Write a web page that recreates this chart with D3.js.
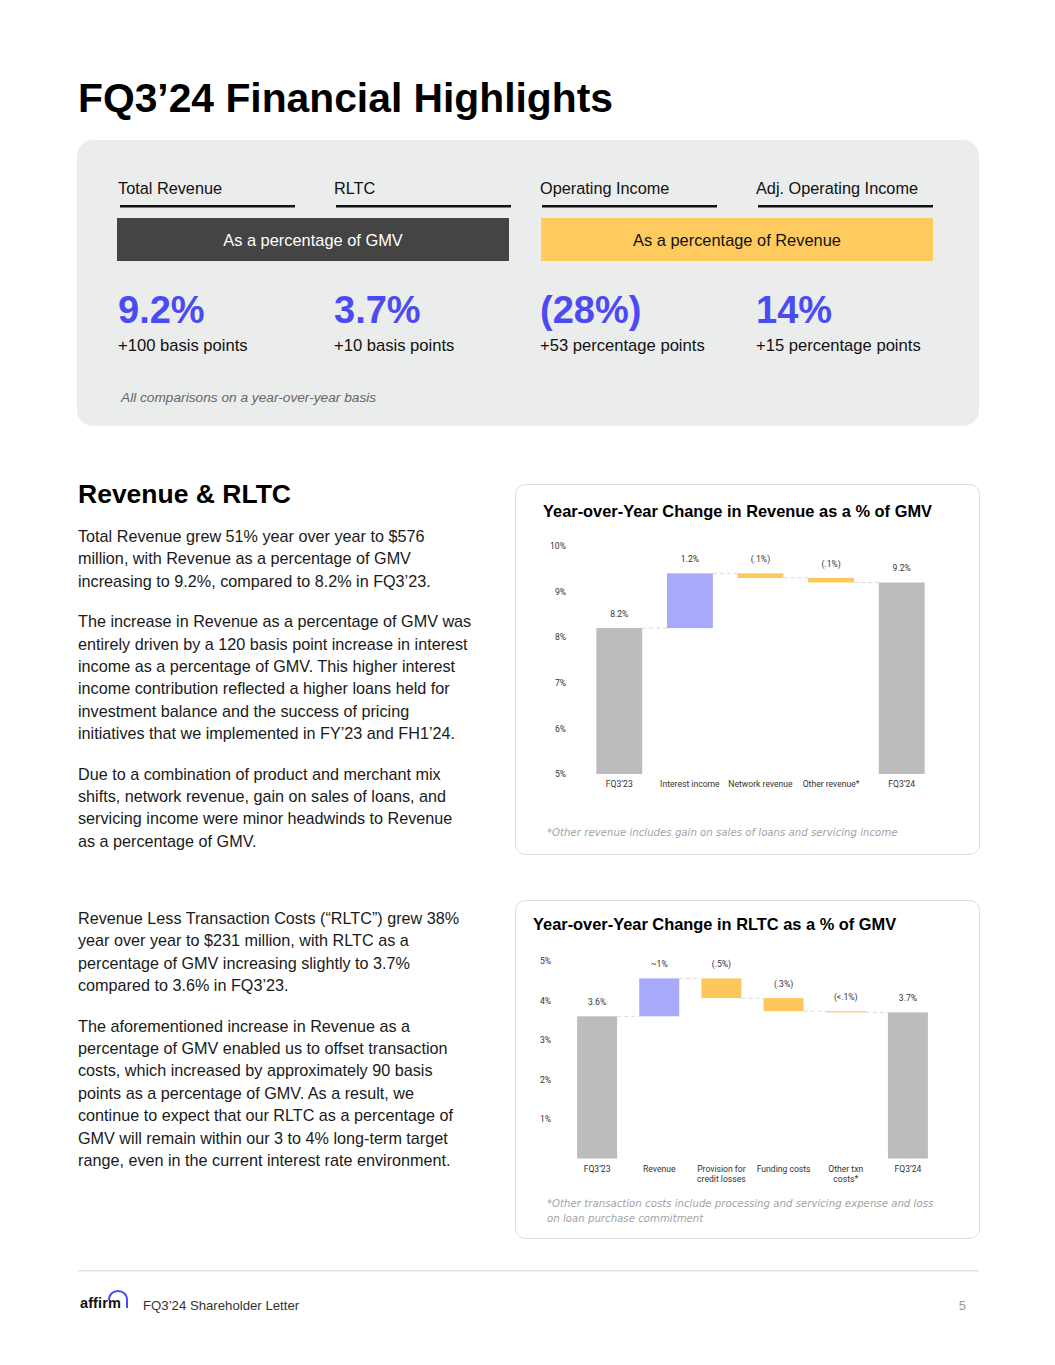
<!DOCTYPE html>
<html>
<head>
<meta charset="utf-8">
<script src="https://cdn.jsdelivr.net/npm/d3@7"></script>
<style>
  body { margin: 0; background: #fff; }
  svg { display: block; font-family: "Liberation Sans", Arial, sans-serif; }
</style>
</head>
<body>
<div id="page"></div>
<script>
var W = 1055, H = 1365;

// highlight tiles
var kpiNames = ["Total Revenue", "RLTC", "Operating Income", "Adj. Operating Income"];
var kpiValues = ["9.2%", "3.7%", "(28%)", "14%"];
var kpiChanges = ["+100 basis points", "+10 basis points", "+53 percentage points", "+15 percentage points"];
var kpiGroups = ["As a percentage of GMV", "As a percentage of Revenue"];

// revenue waterfall
var revCats = ["FQ3\u201923", "Interest income", "Network revenue", "Other revenue*", "FQ3\u201924"];
var revValues = [8.2, 1.2, -0.1, -0.1, 9.2];
var revLabels = ["8.2%", "1.2%", "(.1%)", "(.1%)", "9.2%"];
var revTicks = [5, 6, 7, 8, 9, 10];

// rltc waterfall
var rltcCats = ["FQ3\u201923", "Revenue", "Provision for|credit losses", "Funding costs", "Other txn|costs*", "FQ3\u201924"];
var rltcValues = [3.6, 0.96, -0.5, -0.33, -0.03, 3.7];
var rltcLabels = ["3.6%", "~1%", "(.5%)", "(.3%)", "(<.1%)", "3.7%"];
var rltcTicks = [1, 2, 3, 4, 5];

var para1 = [
  ["Total Revenue grew 51% year over year to $576",
   "million, with Revenue as a percentage of GMV",
   "increasing to 9.2%, compared to 8.2% in FQ3\u201923."],
  ["The increase in Revenue as a percentage of GMV was",
   "entirely driven by a 120 basis point increase in interest",
   "income as a percentage of GMV. This higher interest",
   "income contribution reflected a higher loans held for",
   "investment balance and the success of pricing",
   "initiatives that we implemented in FY\u201923 and FH1\u201924."],
  ["Due to a combination of product and merchant mix",
   "shifts, network revenue, gain on sales of loans, and",
   "servicing income were minor headwinds to Revenue",
   "as a percentage of GMV."]
];
var para2 = [
  ["Revenue Less Transaction Costs (\u201cRLTC\u201d) grew 38%",
   "year over year to $231 million, with RLTC as a",
   "percentage of GMV increasing slightly to 3.7%",
   "compared to 3.6% in FQ3\u201923."],
  ["The aforementioned increase in Revenue as a",
   "percentage of GMV enabled us to offset transaction",
   "costs, which increased by approximately 90 basis",
   "points as a percentage of GMV. As a result, we",
   "continue to expect that our RLTC as a percentage of",
   "GMV will remain within our 3 to 4% long-term target",
   "range, even in the current interest rate environment."]
];

var blue = "#4b4bf2", lav = "#a9a9f9", gold = "#fdc75c", grey = "#bcbcbc";

var svg = d3.select("#page").append("svg")
    .attr("width", W)
    .attr("height", H);

svg.append("text")
    .attr("x", 78).attr("y", 112)
    .attr("font-size", 40.8).attr("font-weight", "bold").attr("fill", "#000")
    .text("FQ3\u201924 Financial Highlights");

// ---- highlights panel
svg.append("rect")
    .attr("x", 77).attr("y", 140).attr("width", 902).attr("height", 286)
    .attr("rx", 16).attr("fill", "#ebecec");

var colX = [118, 334, 540, 756];
var tiles = svg.selectAll(".tile")
    .data(kpiNames)
  .enter().append("g")
    .attr("class", "tile")
    .attr("transform", function(d, i) { return "translate(" + colX[i] + ",0)"; });

tiles.append("text")
    .attr("y", 194).attr("font-size", 16.3).attr("fill", "#111")
    .text(function(d) { return d; });
tiles.append("rect")
    .attr("x", 2).attr("y", 205).attr("width", 175).attr("height", 2.5)
    .attr("fill", "#111");
tiles.append("text")
    .attr("y", 323).attr("font-size", 38).attr("font-weight", "bold").attr("fill", blue)
    .text(function(d, i) { return kpiValues[i]; });
tiles.append("text")
    .attr("y", 351).attr("font-size", 16.6).attr("fill", "#111")
    .text(function(d, i) { return kpiChanges[i]; });

var grp = svg.selectAll(".grp")
    .data(kpiGroups)
  .enter().append("g")
    .attr("class", "grp")
    .attr("transform", function(d, i) { return "translate(" + (i ? 541 : 117) + ",218)"; });
grp.append("rect")
    .attr("width", 392).attr("height", 43)
    .attr("fill", function(d, i) { return i ? "#ffcb5e" : "#444444"; });
grp.append("text")
    .attr("x", 196).attr("y", 27.5).attr("text-anchor", "middle")
    .attr("font-size", 16.4).attr("fill", function(d, i) { return i ? "#111" : "#fff"; })
    .text(function(d) { return d; });

svg.append("text")
    .attr("x", 121).attr("y", 402)
    .attr("font-size", 13.7).attr("font-style", "italic").attr("fill", "#666")
    .text("All comparisons on a year-over-year basis");

// ---- left column text
svg.append("text")
    .attr("x", 78).attr("y", 503)
    .attr("font-size", 26.5).attr("font-weight", "bold").attr("fill", "#000")
    .text("Revenue & RLTC");

function paragraphs(paras, y0) {
  var y = y0;
  paras.forEach(function(lines) {
    lines.forEach(function(l) {
      svg.append("text")
          .attr("x", 78).attr("y", y)
          .attr("font-size", 16.2).attr("fill", "#1a1a1a")
          .text(l);
      y += 22.4;
    });
    y += 18;
  });
}
paragraphs(para1, 542);
paragraphs(para2, 924);

// ---- waterfall charts
function waterfall(o) {
  var card = svg.append("g");
  card.append("rect")
      .attr("x", o.box[0] + 0.5).attr("y", o.box[1] + 0.5)
      .attr("width", o.box[2]).attr("height", o.box[3])
      .attr("rx", 10).attr("fill", "#fff").attr("stroke", "#dcdcdc");
  card.append("text")
      .attr("x", o.titleX).attr("y", o.titleY)
      .attr("font-size", 16.4).attr("font-weight", "bold").attr("fill", "#000")
      .text(o.title);

  var x = d3.scaleBand()
      .domain(o.cats)
      .range(o.xr)
      .paddingInner(o.pad).paddingOuter(o.pad / 2);
  var y = d3.scaleLinear().domain(o.yd).range(o.yr);

  var run = 0, n = o.vals.length;
  var bars = o.vals.map(function(v, i) {
    var b;
    if (i === 0 || i === n - 1) { b = {lo: o.yd[0], hi: v, end: v, kind: "total"}; run = v; }
    else {
      var s = run; run = run + v;
      b = {lo: Math.min(s, run), hi: Math.max(s, run), end: run, kind: v > 0 ? "up" : "down"};
    }
    b.cat = o.cats[i]; b.label = o.labels[i];
    return b;
  });

  var yAxis = d3.axisLeft(y)
      .tickValues(o.ticks)
      .tickSize(0)
      .tickPadding(0)
      .tickFormat(function(d) { return d + "%"; });
  card.append("g")
      .attr("transform", "translate(" + o.axisX + ",0)")
      .call(yAxis)
      .call(function(g) { g.select(".domain").remove(); })
      .selectAll("text")
      .attr("font-family", "Roboto, sans-serif")
      .attr("font-size", 8.6).attr("fill", "#333");

  // connectors
  card.selectAll(".conn")
      .data(bars.slice(0, n - 1))
    .enter().append("line")
      .attr("x1", function(d) { return x(d.cat) + x.bandwidth(); })
      .attr("x2", function(d, i) { return x(bars[i + 1].cat); })
      .attr("y1", function(d) { return y(d.end); })
      .attr("y2", function(d) { return y(d.end); })
      .attr("stroke", "#d9d9d9").attr("stroke-dasharray", "4,3");

  card.selectAll(".bar")
      .data(bars)
    .enter().append("rect")
      .attr("x", function(d) { return x(d.cat); })
      .attr("width", x.bandwidth())
      .attr("y", function(d) { return y(d.hi); })
      .attr("height", function(d) { return Math.max(1, y(d.lo) - y(d.hi)); })
      .attr("fill", function(d) { return d.kind === "total" ? grey : d.kind === "up" ? lav : gold; });

  card.selectAll(".vlab")
      .data(bars)
    .enter().append("text")
      .attr("x", function(d) { return x(d.cat) + x.bandwidth() / 2; })
      .attr("y", function(d) { return y(d.hi) - 11; })
      .attr("text-anchor", "middle")
      .attr("font-family", "Roboto, sans-serif")
      .attr("font-size", 8.6).attr("fill", "#333")
      .text(function(d) { return d.label; });

  var xl = card.selectAll(".xlab")
      .data(bars)
    .enter().append("text")
      .attr("x", function(d) { return x(d.cat) + x.bandwidth() / 2; })
      .attr("y", o.yr[0] + 13)
      .attr("text-anchor", "middle")
      .attr("font-family", "Roboto, sans-serif")
      .attr("font-size", 8.6).attr("fill", "#333");
  xl.selectAll("tspan")
      .data(function(d) { return d.cat.split("|"); })
    .enter().append("tspan")
      .attr("x", function() { return d3.select(this.parentNode).attr("x"); })
      .attr("dy", function(d, i) { return i ? 10.5 : 0; })
      .text(function(d) { return d; });

  o.note.forEach(function(t, i) {
    card.append("text")
        .attr("x", 547).attr("y", o.noteY + i * 14.5)
        .attr("font-family", "'DejaVu Sans', sans-serif")
        .attr("font-size", 10.2).attr("font-style", "italic").attr("fill", "#a3a3a3")
        .text(t);
  });
}

waterfall({
  box: [515, 484, 464, 370],
  title: "Year-over-Year Change in Revenue as a % of GMV",
  titleX: 543, titleY: 517,
  cats: revCats, vals: revValues, labels: revLabels, ticks: revTicks,
  xr: [584, 937], pad: 0.35,
  yd: [5, 10], yr: [774, 546], axisX: 566,
  note: ["*Other revenue includes gain on sales of loans and servicing income"],
  noteY: 836
});

waterfall({
  box: [515, 900, 464, 338],
  title: "Year-over-Year Change in RLTC as a % of GMV",
  titleX: 533, titleY: 930,
  cats: rltcCats, vals: rltcValues, labels: rltcLabels, ticks: rltcTicks,
  xr: [566, 939], pad: 0.357,
  yd: [0, 5], yr: [1158.5, 961], axisX: 551,
  note: ["*Other transaction costs include processing and servicing expense and loss",
         "on loan purchase commitment"],
  noteY: 1207
});

// ---- footer
svg.append("rect")
    .attr("x", 78).attr("y", 1270).attr("width", 901).attr("height", 1.5)
    .attr("fill", "#e3e3e3");
svg.append("text")
    .attr("x", 80).attr("y", 1308)
    .attr("font-size", 14.5).attr("font-weight", "bold").attr("fill", "#111")
    .attr("letter-spacing", 0.1)
    .text("affirm");
svg.append("path")
    .attr("d", "M109,1300 C109,1288 127,1288 127,1300 L127,1308")
    .attr("fill", "none").attr("stroke", blue).attr("stroke-width", 2);
svg.append("text")
    .attr("x", 143).attr("y", 1310)
    .attr("font-size", 13.2).attr("fill", "#333")
    .text("FQ3\u201924 Shareholder Letter");
svg.append("text")
    .attr("x", 966).attr("y", 1310).attr("text-anchor", "end")
    .attr("font-size", 13).attr("fill", "#999")
    .text("5");
</script>
</body>
</html>
